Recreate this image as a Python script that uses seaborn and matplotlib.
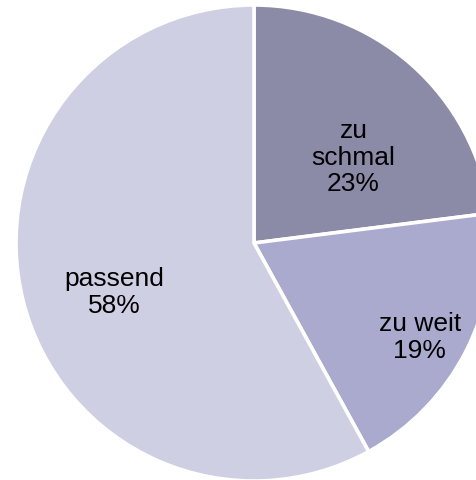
import matplotlib
matplotlib.use("Agg")
import matplotlib.pyplot as plt
import seaborn as sns

# Passform der Teilnehmer
categories = ["zu\nschmal", "zu weit", "passend"]
shares = [23, 19, 58]
colors = ["#8b8ba8", "#a9aacd", "#cecfe3"]

# Label anchor points (fraction of radius, x/y) for each slice
label_xy = [(0.418, 0.359), (0.696, -0.397), (-0.586, -0.207)]

sns.set_theme(style="white")
plt.rcParams["font.family"] = ["Liberation Sans", "DejaVu Sans"]

fig = plt.figure(figsize=(4.77, 4.80), dpi=100)
ax = fig.add_axes([0, 0, 1, 1])

wedges, texts = ax.pie(
    shares,
    colors=colors,
    startangle=90,
    counterclock=False,
    radius=1.0,
    wedgeprops=dict(edgecolor="white", linewidth=2.6),
)

for cat, val, (x, y) in zip(categories, shares, label_xy):
    ax.text(x, y, f"{cat}\n{val}%", ha="center", va="center",
            fontsize=19, color="black", linespacing=1.15)

ax.set_xlim(-254 / 238, (477 - 254) / 238)
ax.set_ylim(-(480 - 243) / 238, 243 / 238)
ax.set_aspect("auto")
ax.axis("off")

fig.savefig("out.png", dpi=100)
